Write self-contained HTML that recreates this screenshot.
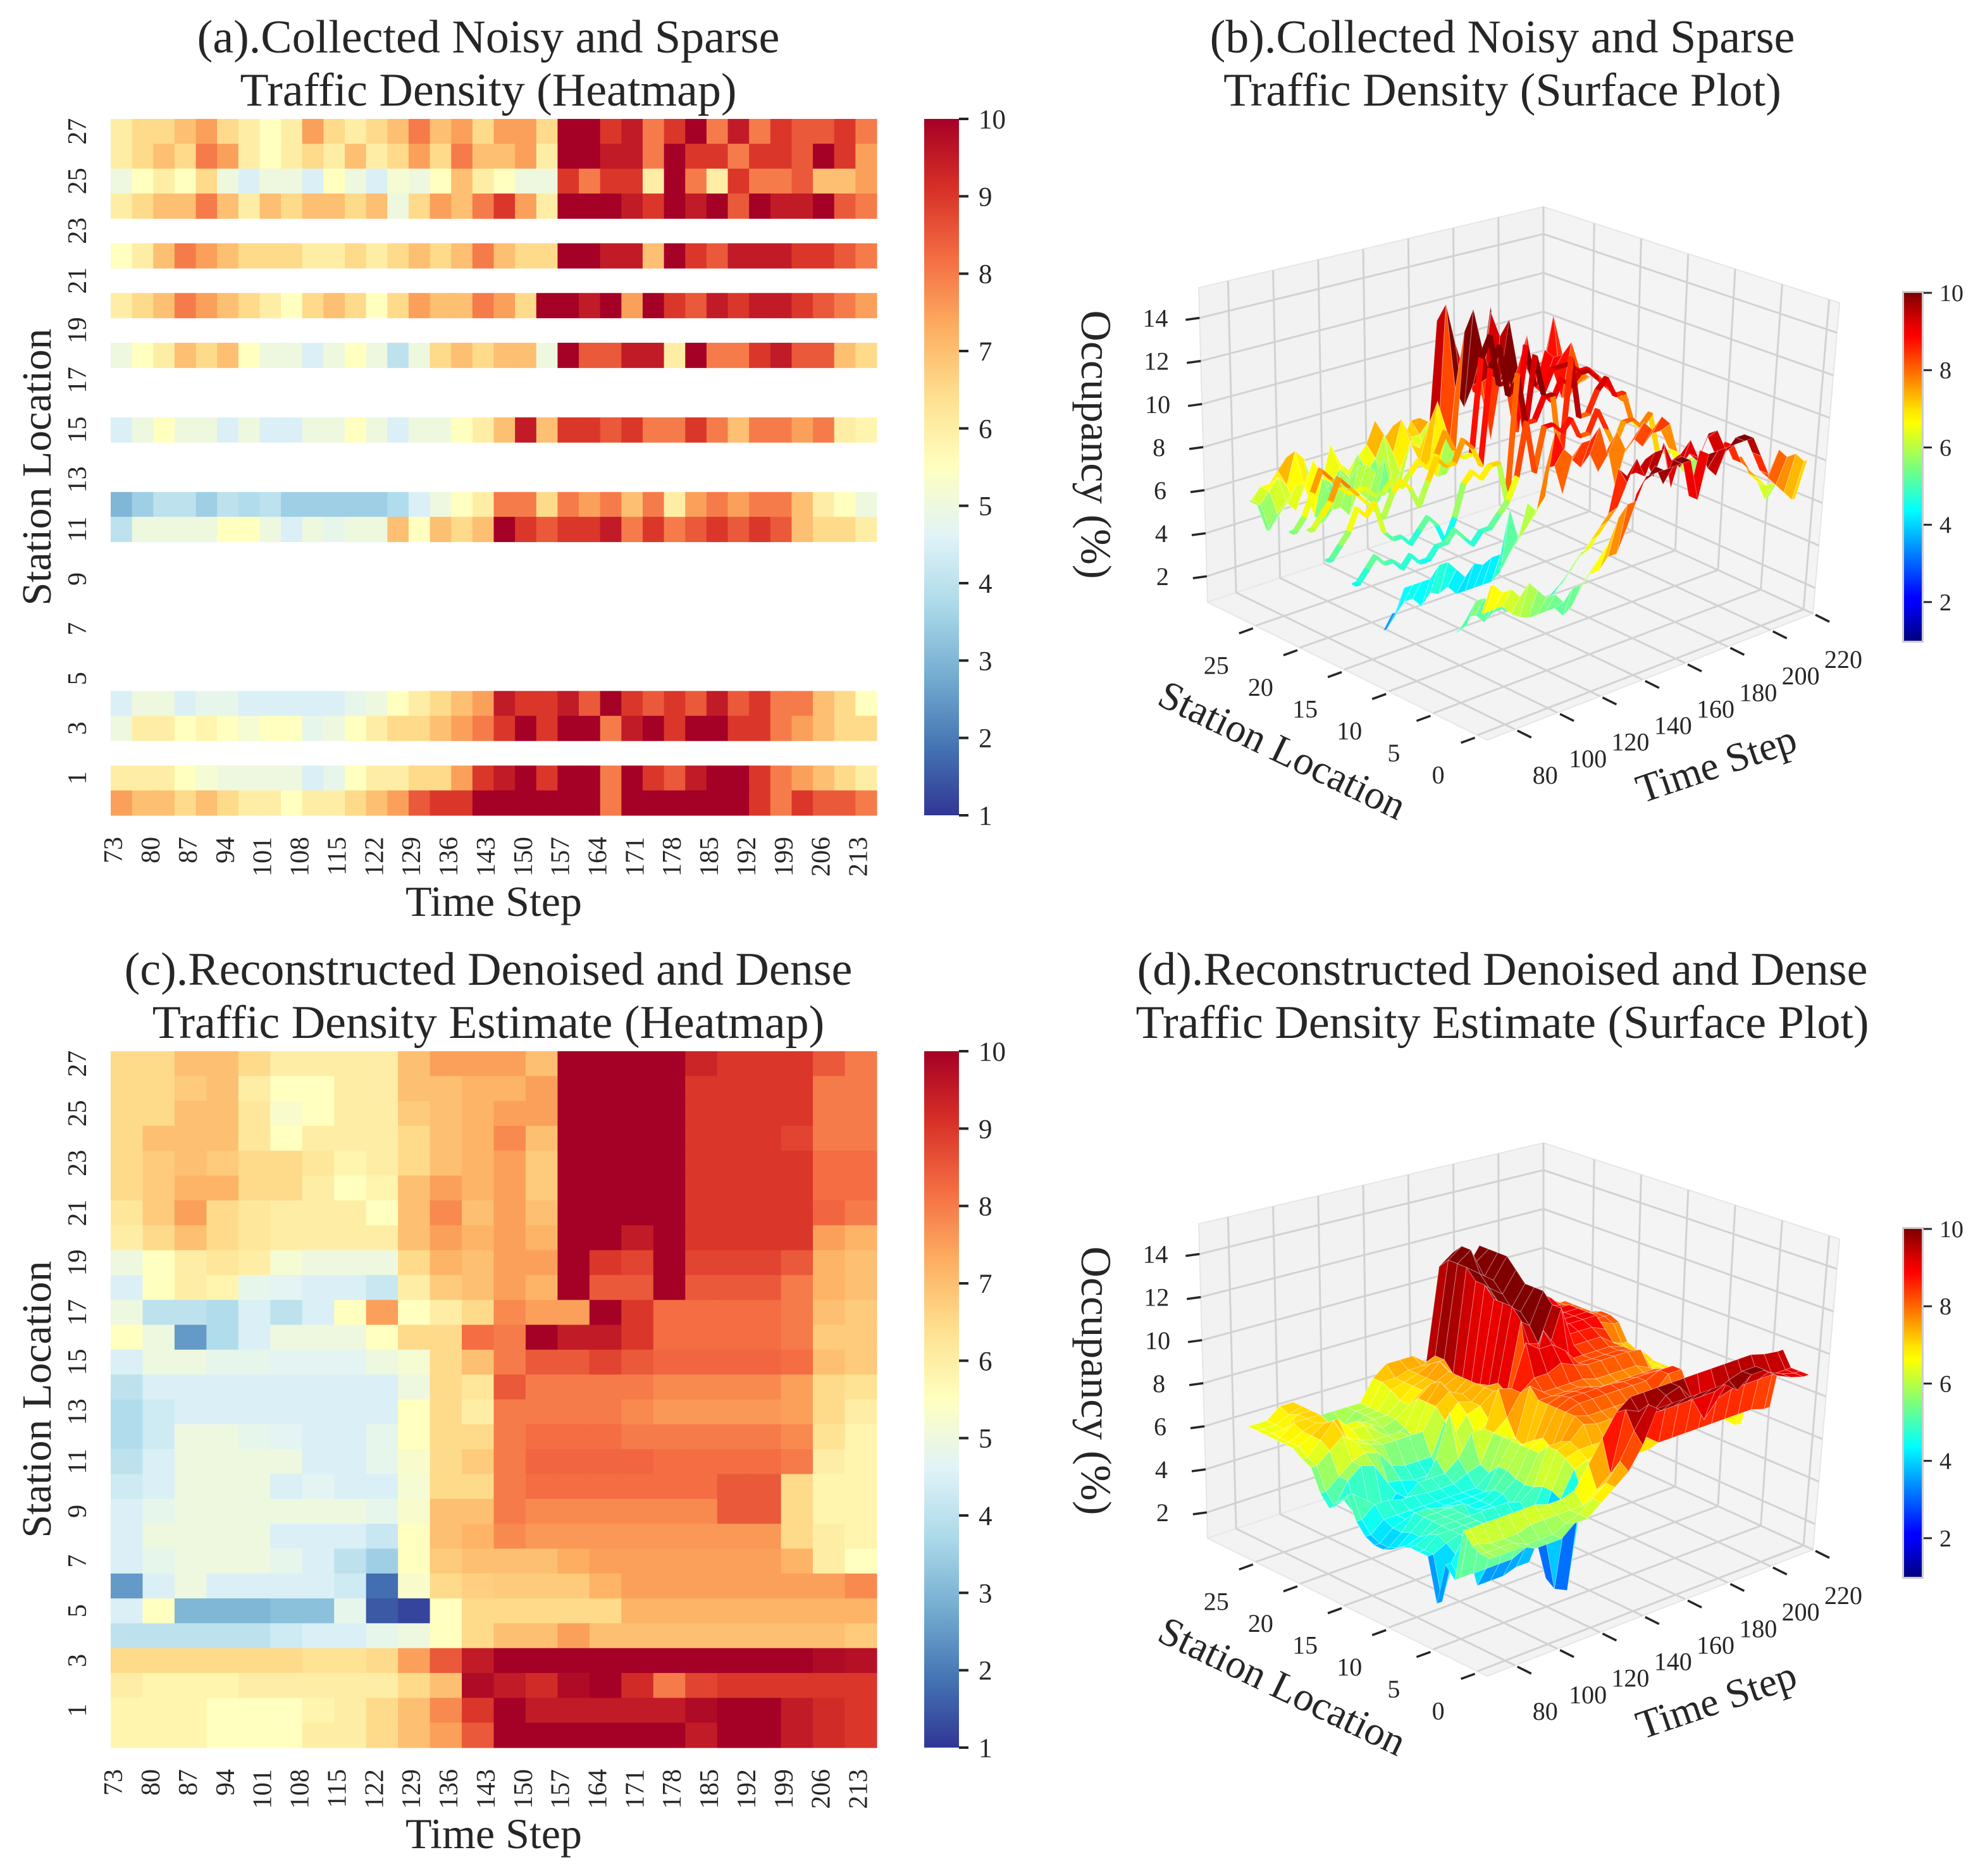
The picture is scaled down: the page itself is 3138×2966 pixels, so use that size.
<!DOCTYPE html>
<html><head><meta charset="utf-8">
<style>
html,body{margin:0;padding:0;background:#fff;}
svg{display:block;font-family:"Liberation Serif","DejaVu Serif",serif;}
</style></head>
<body>
<svg id="fig" xmlns="http://www.w3.org/2000/svg" width="3138" height="2966" viewBox="0 0 3138 2966">
<defs>
<linearGradient id="rdylbu" x1="0" y1="1" x2="0" y2="0">
<stop offset="0" stop-color="#313695"/><stop offset="0.1" stop-color="#4575b4"/><stop offset="0.2" stop-color="#74add1"/><stop offset="0.3" stop-color="#abd9e9"/><stop offset="0.4" stop-color="#e0f3f8"/><stop offset="0.5" stop-color="#ffffbf"/><stop offset="0.6" stop-color="#fee090"/><stop offset="0.7" stop-color="#fdae61"/><stop offset="0.8" stop-color="#f46d43"/><stop offset="0.9" stop-color="#d73027"/><stop offset="1" stop-color="#a50026"/>
</linearGradient>
<linearGradient id="jet" x1="0" y1="1" x2="0" y2="0">
<stop offset="0" stop-color="#00007f"/><stop offset="0.11" stop-color="#0000ff"/><stop offset="0.125" stop-color="#0000ff"/><stop offset="0.34" stop-color="#00dcff"/><stop offset="0.375" stop-color="#00ffff"/><stop offset="0.5" stop-color="#7dff7a"/><stop offset="0.625" stop-color="#ffff00"/><stop offset="0.66" stop-color="#ffe600"/><stop offset="0.875" stop-color="#ff0000"/><stop offset="0.91" stop-color="#e30000"/><stop offset="1" stop-color="#7f0000"/>
</linearGradient>
</defs>
<g id="layer"></g>
</svg>
<script>
// ---------------- DATA ----------------
const timeStart = 73;
const timeSteps = 144;
const xTickLabels = [73,80,87,94,101,108,115,122,129,136,143,150,157,164,171,178,185,192,199,206,213];
const yTickLabels = [1,3,5,7,9,11,13,15,17,19,21,23,25,27];
const heatCbarTicks = [1,2,3,4,5,6,7,8,9,10];
const surfCbarTicks = [2,4,6,8,10];
const zTickLabels = [2,4,6,8,10,12,14];
const stationTickLabels = [0,5,10,15,20,25];
const timeTickLabels = [80,100,120,140,160,180,200,220];

// (a) observed stations and values (blocks of 4 time steps)
const aBlockSteps = 4;
const aStations = [27,26,25,24,22,20,18,15,12,11,4,3,1,0];
const aData = [
[6,6.5,6.5,7,7.5,6.5,6,5.5,6,7.5,6.5,6,6.5,7,8,7,7.5,6.5,7.5,7.5,6.5,12,11,9,9.5,8,9,12,8,9.5,8,9,8.5,8.5,9,8],
[6,6.5,7,6.5,8,7.5,6,5.5,6,6.5,6,7,6,6.5,7.5,6.5,8,7,7,7.5,6,13,11,9.5,9.5,8,12,9,9,8,9,9,8.5,11,9,7.5],
[5,5.5,6,5.5,6.5,5,4.5,5,5,4.5,5.5,5,4.5,5.2,5,5.5,7,6,5.5,5,5,9,8,9,9,6,11,8,6,9,8,8,8.5,7,7,7.5],
[6,6.5,7,7,8,7,6,7,6.5,7,7,6.5,7,5,6.5,7.5,7,8,9,7.5,6,12,13,11,9.5,9,12,9.5,11,8.5,10,9.5,9.5,10,8.5,8],
[5.5,6,7,8,7.5,7,6.5,6.5,6.5,6,6,6.5,6,6.5,7,6.5,7,8,7,6.5,6.5,11,12,9.5,9.5,7,11,9,8.5,9.5,9.5,9.5,9,9,8.5,8],
[6,6.5,7,8,7.5,7,6.5,6,5.5,6.5,7,6.5,5.5,6.5,7.5,7,7,8,7.5,6.5,11,12,9.5,10,7.5,11,9,8.5,9.5,9,9.5,9.5,9,8.5,8,7.5],
[5,5.5,6,7,6.5,7,5.5,5,5,4.5,5,5.5,5,4,5,6.5,7,6.5,7,7,5,11,8.5,8.5,9.5,9.5,6,11,8,8,9,9.5,8.5,8.5,7,6.5],
[4.5,5,5.5,5,5,4.5,5,4.5,4.5,5,5,5.5,5,4.5,5,5,5.5,6,7,9.5,7,9,9,8.5,9,8,8,9,8,7,8,8,7.5,8,6,5.8],
[3,3.5,4,4,3.5,4,3.8,4,3.5,3.5,3.5,3.5,3.5,3.8,4.5,5,5.5,6,8,8,6.5,8,7.5,8,7,8,6,7.5,8,7.5,8,8,7,6,5.5,5],
[4,5,5,5,5,5.5,5.5,5,4.5,5,4.8,5,5,7,5.5,7,6.5,7,10,9,8.5,9,9,9.5,8,9,8,8.5,9,8.5,9,8.5,7,6.5,6.5,6],
[4.5,5,5,4.5,4.8,4.8,4.5,4.5,4.5,4.5,4.5,4.8,5,5.5,6,6.5,7,7.5,9.5,9,9,9.5,8.5,10,9,8.5,9,8.5,9.5,8.5,9,8,8,7,6.5,5.5],
[5,6,6,5.5,5.8,5.5,5.2,5.5,5.5,4.8,5,5.5,6,6.5,6.5,7,7.5,8,9,10,9,10,10,8,9.5,10,9,10,10,9,9,8,7.5,7,6.5,6.5],
[6,6,6,5.5,5.2,5,5,5,5,4.5,4.8,5.5,6,6,6.5,6.5,7.5,9,9.5,10,9,10,10,8,10,9,8.5,9.5,10,10,9,8,7.5,7,6.5,6],
[7.5,7,7,6.5,7,6.5,6,6,5.5,6,6,6.5,7,7.5,8.5,9,9,10,10,10,10,10,10,8,10,10,10,10,10,10,9,8,9,8.5,8.5,8]
];

// (c) reconstructed values, rows listed from station 27 down to station 0 (blocks of 6 time steps)
const cBlockSteps = 6;
const cStations = [27,26,25,24,23,22,21,20,19,18,17,16,15,14,13,12,11,10,9,8,7,6,5,4,3,2,1,0];
const cData = [
[6.5,6.5,7,7,6.5,6,6,6,6,7,7.5,7.5,7.5,7,11.5,12,11,12,9.3,9,9,9,8.5,8],
[6.5,6.5,6.8,7,6,5.5,5.5,6,6,7,7,7.2,7.2,7.5,12,12.5,11.5,12,9,9,9,9,8,8],
[6.5,6.5,7,7,6.2,5.3,5.5,6,6,6.8,7,7.2,7.5,7.5,12,12.5,11,12,9,9,9,9,8,8],
[6.5,7,7,7,6.2,5.5,6,6,6,6.5,7,7.2,7.8,7,12,11.5,11,12,9,9,9,8.8,8,8],
[6.5,6.8,7,6.8,6.5,6.5,6.2,5.8,6,6.5,7,7.2,7.5,6.8,11.5,11,10.5,11.5,9,9,9,9,8.2,8.2],
[6.5,6.8,7.2,7.2,6.5,6.5,6,5.5,5.8,7,7.5,7.2,7.5,6.8,11.5,10.5,10,11,9,9,9,9,8.2,8.2],
[6.2,6.8,7.5,6.5,6.2,6,6,6,5.5,7,7.8,7,7.5,7,11,10.5,10,11,9,9,9,9,8.3,8],
[6,6.5,7,6.5,6.2,6,6,6,6,7,7.5,7.2,7.5,7.2,11,10,9.5,11,9,9,9,9,7.5,7.2],
[5,5.5,6,6.2,6,5.2,5,5,5,6.5,7.2,7,7.5,7.5,11,9,8.8,10.5,8.8,8.8,8.8,8.5,7.2,7],
[4.5,5.5,6,5.8,4.8,4.7,4.5,4.5,4.2,6,6.8,7,7.5,7.2,10.5,8.5,8.5,10.5,8.5,8.5,8.5,8,7.2,7],
[5,4,4,3.8,4.5,4,4.5,5.5,7.5,5.5,6,6.5,7.8,7.5,7.5,10,9,8.2,8.2,8.2,8.2,8,7,6.8],
[5.5,5,2.5,3.8,4.5,5,5,5,5.5,6.5,6.5,8.2,8,10,9.5,9.5,9,8.2,8.2,8.2,8.2,8,6.8,6.8],
[4.5,5,5,4.8,4.8,4.7,4.7,4.7,5,5.2,6.5,7,8,8.5,8.5,8.8,8.5,8.3,8.3,8.3,8.3,8.2,7,6.8],
[4,4.5,4.5,4.5,4.5,4.5,4.5,4.5,4.5,5,6.5,6.2,8.5,8,8,8,8,7.8,7.8,7.8,7.8,7.5,6.5,6.3],
[3.8,4.3,4.5,4.5,4.5,4.5,4.5,4.5,4.5,5.5,6.5,6,8,8,8,8,7.8,7.6,7.6,7.6,7.6,7.5,6.5,6],
[3.8,4.3,5,5,4.8,4.7,4.5,4.5,4.8,5.5,6.5,6.5,8,8.2,8.2,8.2,8,8,8,8,8,7.8,6.3,5.8],
[4,4.5,5,5,5,5,4.5,4.5,4.8,5.3,6.5,6.8,8,8.3,8.3,8.3,8.3,8.2,8.2,8.2,8.2,8,6,5.8],
[4.3,4.5,5,5,5,4.5,4.7,4.5,4.5,5.2,6.5,6.5,8,8.2,8.2,8.2,8.2,8.2,8.2,8.5,8.5,6.5,5.8,5.8],
[4.5,4.8,5,5,5,5,5,5,4.8,5.3,7,7,8,7.8,7.8,7.8,7.8,7.8,7.8,8.5,8.5,6.5,5.8,5.8],
[4.5,5,5,5,5,4.5,4.5,4.5,4.2,5.5,7,7.2,7.8,7.6,7.6,7.6,7.6,7.6,7.6,7.6,7.6,6.5,6,5.8],
[4.5,4.8,5,5,5,4.8,4.5,4,3.5,5.5,6.8,7,7,7,7.3,7.5,7.5,7.5,7.5,7.5,7.5,7.2,6,5.5],
[2.5,4.5,5,4.5,4.5,4.5,4.5,4.3,1.8,5.3,6.5,6.7,6.8,6.8,6.8,7.2,7.5,7.5,7.5,7.5,7.5,7.5,7.5,7.8],
[4.5,5.5,3,3,3,3.2,3.2,4.8,1.5,1.2,5.5,6.5,6.5,6.5,6.5,6.5,7.2,7.2,7.2,7.2,7.2,7.2,7.2,7.2],
[4,4,4,4,4,4.3,4.5,4.5,4.8,5,5.5,6.5,7,7,7.5,7,7,7,7,7,7,7,7,6.8],
[6.5,6.5,6.5,6.5,6.5,6.5,6.3,6.3,6.5,7.5,8.5,9.5,10,10,10,10,10,10,10,10,10,10,9.8,9.7],
[6,5.8,5.8,5.8,6,6,6,6,6,6.5,7,9.8,9.5,9.2,9.8,10,9.2,8,8.8,9,9,9,9,9],
[5.8,5.8,5.8,5.5,5.5,5.5,5.8,6,6.5,7,7.8,9,10,9.5,9.5,9.5,9.5,9.5,9.8,10,10,9.5,9.2,9],
[5.8,5.8,5.8,5.5,5.5,5.5,6,6,6.5,7,7.5,8.5,10,10,10,10,10,10,9.5,10,10,9.5,9.2,9]
];

// ---------------- HELPERS ----------------
const NS = "http://www.w3.org/2000/svg";
const layer = document.getElementById('layer');
function mk(tag, attrs, parent){
  const e = document.createElementNS(NS, tag);
  for (const k in attrs) e.setAttribute(k, attrs[k]);
  (parent || layer).appendChild(e);
  return e;
}
function txt(str, attrs, parent){
  const e = mk('text', attrs, parent);
  e.textContent = str;
  return e;
}
const rdStops = ["#313695","#4575b4","#74add1","#abd9e9","#e0f3f8","#ffffbf","#fee090","#fdae61","#f46d43","#d73027","#a50026"];
function hex2rgb(h){return [parseInt(h.substr(1,2),16),parseInt(h.substr(3,2),16),parseInt(h.substr(5,2),16)];}
const rdRGB = rdStops.map(hex2rgb);
function rdColor(v){
  let f = (v-1)/9; f = Math.max(0, Math.min(1, f));
  const p = f*10, i = Math.min(9, Math.floor(p)), u = p - i;
  const a = rdRGB[i], b = rdRGB[i+1];
  return 'rgb(' + [0,1,2].map(k => Math.round(a[k]+(b[k]-a[k])*u)).join(',') + ')';
}
function jetColor(v){
  let x = (v-1)/9; x = Math.max(0, Math.min(1, x));
  const c = q => Math.round(255*Math.max(0, Math.min(1, q)));
  return 'rgb(' + c(1.5-Math.abs(4*x-3)) + ',' + c(1.5-Math.abs(4*x-2)) + ',' + c(1.5-Math.abs(4*x-1)) + ')';
}
const TXT = '#262626';
const TITLE_FS = 74;

// ---------------- HEATMAPS ----------------
const HM = {x0:175, x1:1386, h:1101, rows:28};
const stepW = (HM.x1-HM.x0)/timeSteps;
const rowH = HM.h/HM.rows;
function xOfStep(t){ return HM.x0 + (t - timeStart)*stepW; }
function yOfStation(s, top){ return top + (27 - s)*rowH; }

function drawHeatmap(prefix, top, stations, data, blockSteps, title1, title2){
  const g = mk('g', {});
  
  
  stations.forEach((s, ri) => {
    data[ri].forEach((v, bi) => {
      const t = timeStart + bi*blockSteps;
      const x = xOfStep(t), w = Math.min(blockSteps, timeStart+timeSteps - t)*stepW;
      const r = mk('rect', {x: x.toFixed(2), y: yOfStation(s, top).toFixed(2), width: (w+0.6).toFixed(2), height: (rowH+0.6).toFixed(2), fill: rdColor(v)}, g);
      
      
    });
  });
  yTickLabels.forEach(s => {
    const cy = yOfStation(s, top) + rowH/2;
    const t = txt(String(s), {x: 0, y: 0, 'font-size': 42, fill: TXT, 'text-anchor': 'middle', transform: 'translate(136,' + cy.toFixed(1) + ') rotate(-90)'});
    
    
  });
  xTickLabels.forEach(tv => {
    const cx = xOfStep(tv) + stepW/2 + 14;
    const t = txt(String(tv), {x: 0, y: 0, 'font-size': 42, fill: TXT, 'text-anchor': 'end', transform: 'translate(' + cx.toFixed(1) + ',' + (top + HM.h + 34) + ') rotate(-90)'});
    
    
  });
  const xl = txt('Time Step', {x: (HM.x0+HM.x1)/2, y: top + 1260, 'font-size': 68, fill: TXT, 'text-anchor': 'middle'});
  
  
  const yl = txt('Station Location', {x: 0, y: 0, 'font-size': 66, fill: TXT, 'text-anchor': 'middle', transform: 'translate(80,' + (top + HM.h/2) + ') rotate(-90)'});
  
  
  const t1 = txt(title1, {x: 772, y: top - 105, 'font-size': TITLE_FS, fill: TXT, 'text-anchor': 'middle'});
  
  
  const t2 = txt(title2, {x: 772, y: top - 21, 'font-size': TITLE_FS, fill: TXT, 'text-anchor': 'middle'});
  
  
  const cb = mk('rect', {x: 1461, y: top, width: 55, height: HM.h, fill: 'url(#rdylbu)'});
  
  
  heatCbarTicks.forEach(v => {
    const y = top + HM.h - (v-1)/9*HM.h;
    const tk = mk('line', {x1: 1516, y1: y, x2: 1531, y2: y, stroke: TXT, 'stroke-width': 4});
    
    
    const lb = txt(String(v), {x: 1547, y: y + 15, 'font-size': 43, fill: TXT});
    
    
  });
}
drawHeatmap('collected', 188, aStations, aData, aBlockSteps, '(a).Collected Noisy and Sparse', 'Traffic Density (Heatmap)');
drawHeatmap('reconstructed', 1662, cStations, cData, cBlockSteps, '(c).Reconstructed Denoised and Dense', 'Traffic Density Estimate (Heatmap)');

// ---------------- 3D SURFACES ----------------
const S0 = -1.1, S1 = 30.4, T0 = 67, T1 = 220, Z0 = 0.8, Z1 = 15.4;
function proj(s, t, z, oy){
  const sn = (s-S0)/(S1-S0), tn = (t-T0)/(T1-T0), zf = (z-Z0)/(Z1-Z0);
  const x = 2351 - 442*sn + 515*tn + 16*sn*tn + zf*(-14*sn*(1-tn) + 42*tn*(1-sn));
  const y = 1170 + oy - 218*sn - 200*tn + 23*sn*tn - zf*(497 - 6*tn - 43*sn*tn);
  return [x, y];
}
function ptsStr(arr){ return arr.map(p => p[0].toFixed(1) + ',' + p[1].toFixed(1)).join(' '); }

function drawAxes3D(prefix, oy, title1, title2){
  const g = mk('g', {});
  
  
  const wallL = mk('polygon', {points: ptsStr([proj(S1,T0,Z0,oy),proj(S1,T1,Z0,oy),proj(S1,T1,Z1,oy),proj(S1,T0,Z1,oy)]), fill: '#f2f2f2', stroke: '#e6e6e6', 'stroke-width': 2}, g);
  
  
  const wallR = mk('polygon', {points: ptsStr([proj(S0,T1,Z0,oy),proj(S1,T1,Z0,oy),proj(S1,T1,Z1,oy),proj(S0,T1,Z1,oy)]), fill: '#f4f4f4', stroke: '#e6e6e6', 'stroke-width': 2}, g);
  
  
  const floor = mk('polygon', {points: ptsStr([proj(S0,T0,Z0,oy),proj(S1,T0,Z0,oy),proj(S1,T1,Z0,oy),proj(S0,T1,Z0,oy)]), fill: '#f3f3f3', stroke: '#e6e6e6', 'stroke-width': 2}, g);
  
  
  const gl = {stroke: '#d2d2d2', 'stroke-width': 3, fill: 'none'};
  function line(a, b, name){
    const l = mk('line', Object.assign({x1: a[0], y1: a[1], x2: b[0], y2: b[1]}, gl), g);
    
    
  }
  timeTickLabels.forEach(tv => {
    line(proj(S1,tv,Z0,oy), proj(S1,tv,Z1,oy), 'grid-line');
    line(proj(S0,tv,Z0,oy), proj(S1,tv,Z0,oy), 'grid-line');
  });
  stationTickLabels.forEach(sv => {
    line(proj(sv,T1,Z0,oy), proj(sv,T1,Z1,oy), 'grid-line');
    line(proj(sv,T0,Z0,oy), proj(sv,T1,Z0,oy), 'grid-line');
  });
  zTickLabels.forEach(zv => {
    line(proj(S1,T0,zv,oy), proj(S1,T1,zv,oy), 'grid-line');
    line(proj(S0,T1,zv,oy), proj(S1,T1,zv,oy), 'grid-line');
  });
  zTickLabels.forEach(zv => {
    const p = proj(S1,T0,zv,oy);
    const tk = mk('line', {x1: p[0]-22, y1: p[1]+3, x2: p[0], y2: p[1], stroke: TXT, 'stroke-width': 3.5}, g);
    
    
    const lb = txt(String(zv), {x: p[0]-70, y: p[1]+14, 'font-size': 40, fill: TXT, 'text-anchor': 'middle'}, g);
    
    
  });
  stationTickLabels.forEach(sv => {
    const p = proj(sv,T0,Z0,oy);
    const tk = mk('line', {x1: p[0]-4, y1: p[1]+4, x2: p[0]-26, y2: p[1]+12, stroke: TXT, 'stroke-width': 3.5}, g);
    
    
    const lb = txt(String(sv), {x: p[0]-62, y: p[1]+76, 'font-size': 40, fill: TXT, 'text-anchor': 'middle'}, g);
    
    
  });
  timeTickLabels.forEach(tv => {
    const p = proj(S0,tv,Z0,oy);
    const tk = mk('line', {x1: p[0]+4, y1: p[1]+2, x2: p[0]+26, y2: p[1]+13, stroke: TXT, 'stroke-width': 3.5}, g);
    
    
    const lb = txt(String(tv), {x: p[0]+48, y: p[1]+86, 'font-size': 40, fill: TXT, 'text-anchor': 'middle'}, g);
    
    
  });
  const zl = txt('Occupancy (%)', {x: 0, y: 0, 'font-size': 68, fill: TXT, 'text-anchor': 'middle', transform: 'translate(1710,' + (703+oy) + ') rotate(90)'}, g);
  
  
  const sl = txt('Station Location', {x: 0, y: 0, 'font-size': 64, fill: TXT, 'text-anchor': 'middle', transform: 'translate(2018,' + (1205+oy) + ') rotate(25.7)'}, g);
  
  
  const tl = txt('Time Step', {x: 0, y: 0, 'font-size': 64, fill: TXT, 'text-anchor': 'middle', transform: 'translate(2720,' + (1228+oy) + ') rotate(-18.7)'}, g);
  
  
  const t1 = txt(title1, {x: 2375, y: 83 + (oy ? 1474 : 0), 'font-size': TITLE_FS, fill: TXT, 'text-anchor': 'middle'}, g);
  
  
  const t2 = txt(title2, {x: 2375, y: 167 + (oy ? 1474 : 0), 'font-size': TITLE_FS, fill: TXT, 'text-anchor': 'middle'}, g);
  
  
  const cbb = mk('rect', {x: 3007, y: 460+oy, width: 34, height: 556, fill: '#cccccc'}, g);
  
  
  const cb = mk('rect', {x: 3010, y: 463+oy, width: 28, height: 550, fill: 'url(#jet)'}, g);
  
  
  surfCbarTicks.forEach(v => {
    const y = 463 + oy + 550 - (v-1)/9*550;
    const tk = mk('line', {x1: 3041, y1: y, x2: 3054, y2: y, stroke: TXT, 'stroke-width': 3}, g);
    
    
    const lb = txt(String(v), {x: 3066, y: y + 13, 'font-size': 38, fill: TXT}, g);
    
    
  });
  const sg = mk('g', {}, g);
  
  
  return sg;
}

function drawSurface(sg, oy, stations, data, blockSteps, pairs, singles){
  const nb = data[0].length;
  const ts = [timeStart];
  for (let b = 0; b < nb; b++) ts.push(timeStart + b*blockSteps + (blockSteps-1)/2);
  ts.push(timeStart + timeSteps - 1);
  const zs = data.map(row => [row[0]].concat(row, [row[nb-1]]));
  const idx = {};
  stations.forEach((s, i) => idx[s] = i);
  const quads = [];
  pairs.forEach(pr => {
    const ia = idx[pr[0]], ib = idx[pr[1]];
    for (let k = 0; k < ts.length-1; k++) {
      const z4 = [zs[ia][k], zs[ia][k+1], zs[ib][k+1], zs[ib][k]];
      const pts = [proj(pr[0],ts[k],zs[ia][k],oy), proj(pr[0],ts[k+1],zs[ia][k+1],oy), proj(pr[1],ts[k+1],zs[ib][k+1],oy), proj(pr[1],ts[k],zs[ib][k],oy)];
      const depth = ((pr[0]+pr[1])/2 - S0)/(S1-S0) + ((ts[k]+ts[k+1])/2 - T0)/(T1-T0);
      quads.push({pts, z: (z4[0]+z4[1]+z4[2]+z4[3])/4, depth});
    }
  });
  singles.forEach(s => {
    const ia = idx[s];
    for (let k = 0; k < ts.length-1; k++) {
      const pts = [proj(s,ts[k],zs[ia][k],oy), proj(s,ts[k+1],zs[ia][k+1],oy), proj(s+0.35,ts[k+1],zs[ia][k+1],oy), proj(s+0.35,ts[k],zs[ia][k],oy)];
      const depth = (s - S0)/(S1-S0) + ((ts[k]+ts[k+1])/2 - T0)/(T1-T0);
      quads.push({pts, z: (zs[ia][k]+zs[ia][k+1])/2, depth, thin: true});
    }
  });
  quads.sort((a, b) => b.depth - a.depth);
  quads.forEach(q => {
    const c = jetColor(q.z);
    const p = mk('polygon', {points: ptsStr(q.pts), fill: c, stroke: q.thin ? c : 'rgba(255,255,255,0.35)', 'stroke-width': q.thin ? 4 : 1, 'stroke-linejoin': 'round'}, sg);
    
    
  });
}

const sgB = drawAxes3D('collected', 0, '(b).Collected Noisy and Sparse', 'Traffic Density (Surface Plot)');
drawSurface(sgB, 0, aStations, aData, aBlockSteps, [[0,1],[3,4],[11,12],[24,25],[25,26],[26,27]], [15,18,20,22]);

const sgD = drawAxes3D('reconstructed', 1480, '(d).Reconstructed Denoised and Dense', 'Traffic Density Estimate (Surface Plot)');
const cPairs = [];
for (let s = 0; s < 27; s++) cPairs.push([s, s+1]);
drawSurface(sgD, 1480, cStations, cData, cBlockSteps, cPairs, []);
</script>
</body></html>
